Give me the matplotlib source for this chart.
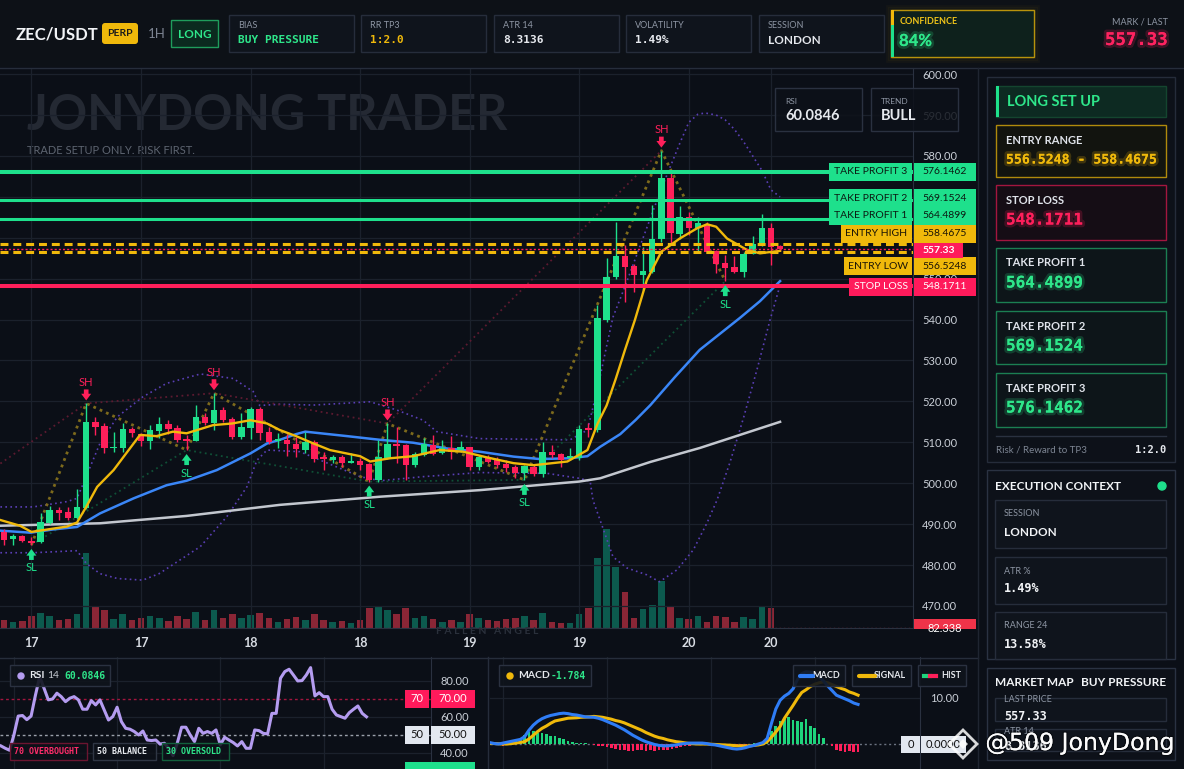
import matplotlib
matplotlib.use("Agg")
import matplotlib.pyplot as plt
import matplotlib.patheffects as pe
import numpy as np
from matplotlib.colors import to_rgba
from matplotlib.patches import Rectangle, FancyBboxPatch, Circle, Polygon

# ---------------- data ----------------
# 1h candles, ZEC/USDT
opens = [488.1, 486.3, 487.1, 485.9, 485.7, 490.3, 493.4, 492.9, 491.4, 494.0,
         514.9, 514.0, 508.5, 508.7, 513.2, 512.0, 510.4, 512.8, 514.4, 513.5,
         510.6, 510.4, 516.1, 514.8, 517.9, 515.6, 511.3, 513.6, 518.1, 512.6,
         510.4, 510.5, 509.7, 508.0, 510.0, 506.2, 505.7, 506.3, 505.0, 505.5,
         504.7, 500.8, 506.1, 509.7, 509.3, 504.4, 506.9, 509.3, 507.3, 508.5,
         508.1, 508.8, 503.9, 506.3, 505.7, 504.7, 504.0, 502.6, 504.0, 502.2,
         507.7, 507.1, 506.1, 506.1, 513.3, 513.0, 539.9, 550.3, 555.5, 553.1,
         550.9, 551.7, 559.6, 574.7, 560.9, 565.0, 562.5, 563.1, 556.7, 553.9,
         552.9, 551.7, 556.0, 558.2, 562.3, 558.0]
highs = [488.9, 487.7, 487.3, 486.9, 492.6, 494.4, 494.2, 494.2, 498.5, 519.5,
         516.1, 514.6, 512.6, 514.6, 513.8, 512.3, 514.2, 516.1, 515.4, 514.2,
         511.8, 519.1, 517.1, 522.0, 518.7, 516.1, 517.2, 518.7, 518.7, 513.8,
         512.2, 512.0, 511.4, 512.6, 510.6, 507.7, 506.9, 506.9, 507.3, 506.1,
         504.9, 510.6, 514.6, 513.8, 509.5, 507.7, 511.0, 511.8, 510.6, 511.5,
         510.3, 508.9, 506.9, 506.9, 506.5, 505.7, 504.4, 504.4, 504.4, 510.1,
         509.3, 507.3, 508.5, 514.2, 514.6, 543.5, 555.0, 563.9, 558.2, 553.7,
         557.8, 568.0, 581.3, 576.5, 567.7, 566.4, 565.1, 563.9, 557.0, 555.8,
         555.5, 556.6, 560.4, 565.8, 563.5, 558.2]
lows = [484.9, 484.9, 485.7, 484.9, 485.5, 490.1, 491.1, 491.1, 491.2, 493.8,
        511.8, 507.4, 507.7, 507.7, 511.4, 509.1, 508.3, 511.0, 512.0, 510.1,
        508.1, 510.2, 514.2, 513.1, 515.0, 510.8, 510.9, 510.9, 510.5, 509.7,
        508.5, 506.7, 506.5, 507.3, 505.3, 503.2, 504.9, 504.0, 504.9, 503.2,
        500.4, 500.4, 505.8, 504.9, 500.8, 504.0, 506.7, 506.9, 507.1, 505.9,
        507.7, 503.2, 503.2, 504.9, 503.6, 502.8, 501.2, 500.8, 501.7, 501.6,
        506.1, 504.0, 505.7, 505.7, 511.4, 512.5, 539.5, 550.0, 544.3, 546.8,
        547.2, 551.5, 559.0, 558.6, 559.6, 560.6, 556.8, 556.2, 551.3, 549.4,
        551.5, 550.3, 556.0, 558.0, 553.3, 557.1]
closes = [486.1, 487.1, 485.9, 485.4, 490.4, 493.4, 492.8, 491.6, 494.2, 514.9,
          513.8, 508.7, 508.8, 513.2, 512.2, 510.4, 513.0, 514.5, 513.2, 510.5,
          510.4, 516.1, 514.6, 517.9, 515.4, 511.3, 513.8, 518.1, 512.3, 510.1,
          510.8, 509.7, 508.3, 510.0, 505.9, 506.0, 506.5, 505.0, 505.5, 504.4,
          500.9, 506.3, 509.7, 509.2, 504.4, 507.1, 509.6, 507.1, 508.7, 507.7,
          508.9, 503.9, 506.3, 505.3, 504.4, 503.6, 502.6, 504.2, 502.2, 507.7,
          506.9, 505.7, 506.6, 513.2, 513.1, 540.4, 550.5, 555.5, 552.9, 550.9,
          551.8, 559.8, 574.7, 561.1, 565.0, 562.5, 563.5, 556.6, 553.7, 552.7,
          551.7, 556.0, 558.4, 562.3, 557.8, 557.33]
volumes = [8, 6, 7, 12, 15, 12, 8, 9, 14, 76,
           22, 18, 9, 14, 8, 10, 12, 10, 7, 12,
           9, 16, 8, 18, 10, 14, 10, 13, 15, 10,
           6, 9, 11, 8, 14, 8, 6, 7, 5, 8,
           20, 22, 18, 14, 20, 10, 12, 9, 6, 8,
           6, 14, 10, 8, 7, 9, 10, 12, 8, 15,
           6, 5, 5, 14, 20, 71, 100, 62, 36, 10,
           19, 23, 48, 21, 10, 9, 12, 6, 12, 11,
           6, 11, 9, 21, 20, 0.5]

# moving averages and bands, sampled at (bar, price)
ema_fast_x = [-0.4, 1.75, 3, 6.9, 8, 9, 10.2, 12, 14.9, 16.7, 18.5, 20, 22.9, 25, 27, 28.8,
              30.2, 32, 33.9, 35.7, 39, 40.1, 42.3, 44.8, 47.7, 50.3, 52.9, 55.8, 58, 61.7,
              63.9, 65, 66, 67, 68, 69.1, 70.4, 72, 74, 75.9, 77, 78, 79.2, 81.4, 82.8, 85]
ema_fast_y = [491.0, 489.6, 488.1, 489.4, 490.4, 494.2, 499.1, 503.2, 511.8, 511.5, 512.6, 512.2,
              514.2, 514.6, 515.4, 514.6, 513.0, 511.5, 509.7, 508.1, 506.6, 505.3, 506.1, 506.6,
              508.1, 507.7, 506.3, 504.9, 504.4, 505.3, 508.1, 514.5, 519.0, 525.5, 532.5, 539.9,
              549.6, 556.6, 559.8, 562.3, 563.3, 562.7, 559.8, 557.0, 556.2, 556.8]
ema_mid_x = [-0.4, 2.9, 5.4, 8, 10.5, 14.2, 17.8, 20, 23.3, 27, 28.8, 30.2, 32, 33, 37.6, 41.2,
             44.8, 48.5, 52.1, 55.8, 58.7, 62, 63.9, 65.3, 67.5, 69.2, 70.8, 73.5, 76.2, 78.4,
             80.6, 82.8, 85]
ema_mid_y = [488.4, 487.9, 488.7, 489.3, 492.6, 496.3, 499.5, 500.6, 503.2, 507.3, 509.7, 510.6,
             512.0, 512.6, 511.5, 510.6, 509.9, 508.5, 507.7, 506.5, 505.9, 506.1, 506.6, 508.9,
             512.0, 515.5, 519.1, 526.0, 532.6, 536.5, 540.4, 544.5, 549.4]
ema_slow_x = [-0.4, 10.5, 20, 30.2, 41.2, 52.1, 63, 65.3, 70.8, 76.2, 85]
ema_slow_y = [489.6, 490.2, 492.0, 494.7, 496.7, 498.3, 500.4, 501.2, 505.2, 508.6, 515.0]
bb_up_x = [-0.4, 3.2, 6.9, 8, 9, 10.5, 12.4, 15.2, 17.8, 21.5, 25.1, 27.3, 28, 30.2, 33.9,
           40.1, 43, 45.9, 47.4, 52.1, 62, 63.9, 65, 66, 66.7, 68, 69, 70, 71, 72, 73, 74, 75,
           76, 76.8, 78, 79, 80, 81, 82, 83, 84, 85]
bb_up_y = [494.2, 494.2, 495.5, 496.3, 501.6, 509.7, 516.2, 521.1, 524.4, 526.7, 525.6, 522.4,
           519.0, 519.3, 519.1, 519.9, 517.9, 515.4, 512.6, 510.9, 510.6, 513.0, 523.0, 533.5,
           540.6, 548.0, 554.0, 560.0, 566.0, 572.0, 577.5, 583.0, 588.2, 590.2, 590.5, 590.0,
           588.8, 586.5, 583.5, 580.0, 576.5, 571.7, 570.0]
bb_lo_x = [-0.4, 3.2, 8, 9, 10.5, 12.4, 15.2, 17, 21.5, 24.4, 26.6, 27.7, 28.8, 32.4, 39, 41.2,
           45.9, 52.1, 59.5, 63, 64.2, 64.5, 65.6, 66.7, 68.2, 70.4, 71.8, 73.7, 75.5, 77, 78.1,
           79.5, 81, 82.5, 83.9, 85]
bb_lo_y = [483.0, 483.0, 483.5, 480.4, 477.9, 476.7, 476.3, 477.9, 484.5, 491.8, 499.1, 505.6,
           508.1, 507.7, 501.6, 500.6, 501.6, 502.6, 502.4, 501.2, 500.5, 495.9, 489.0, 482.0,
           479.3, 477.6, 475.9, 478.8, 483.7, 490.3, 495.9, 505.0, 516.0, 528.0, 539.9, 548.4]

# swing points
swing_high_bars = [9, 23, 42, 72]
swing_low_bars = [3, 20, 40, 57, 79]
zigzag_bars = [3, 9, 20, 23, 40, 42, 57, 72, 79]
res_line_x = [-0.4, 9, 23, 42, 72]
res_line_y = [504.8, 519.5, 522.0, 514.6, 581.3]

# trade plan levels
level_names = ["TAKE PROFIT 3", "TAKE PROFIT 2", "TAKE PROFIT 1", "ENTRY HIGH", "ENTRY LOW", "STOP LOSS"]
level_prices = [576.1462, 569.1524, 564.4899, 558.4675, 556.5248, 548.1711]
last_price = 557.33

day_tick_bars = [3, 15, 27, 39, 51, 63, 75, 84]
day_tick_labels = ["17", "17", "18", "18", "19", "19", "20", "20"]

# oscillators (one value per bar)
rsi = [43.9, 42.6, 41.5, 50.0, 60.5, 60.8, 58.5, 60.5, 72.0, 82.4,
       76.0, 69.5, 70.0, 73.2, 71.3, 68.5, 70.4, 71.3, 69.5, 64.3,
       64.3, 69.1, 66.7, 69.5, 63.9, 58.3, 60.2, 65.4, 57.4, 53.7,
       53.2, 51.9, 50.0, 52.2, 47.2, 46.9, 47.2, 44.9, 45.4, 42.6,
       38.5, 45.5, 54.3, 54.3, 50.0, 46.3, 53.7, 50.9, 51.9, 50.9,
       52.8, 44.5, 48.7, 47.2, 45.8, 43.9, 46.3, 42.6, 42.6, 52.8,
       52.4, 50.9, 50.6, 62.0, 62.0, 81.5, 85.2, 86.5, 83.3, 80.0,
       80.2, 83.3, 87.4, 71.7, 73.5, 71.3, 71.3, 64.3, 61.1, 60.2,
       59.3, 62.4, 64.3, 66.1, 62.0, 60.08]
macd = [0.3, 0.1, 0.0, 0.2, 0.4, 0.6, 0.8, 1.0, 1.6, 3.0,
        4.1, 4.9, 5.5, 5.9, 6.2, 6.4, 6.6, 6.7, 6.6, 6.4,
        6.3, 6.1, 5.9, 5.85, 5.8, 5.6, 5.3, 4.9, 4.5, 4.1,
        3.6, 3.1, 2.5, 1.9, 1.4, 0.9, 0.5, 0.2, -0.1, -0.3,
        -0.4, -0.4, -0.3, -0.2, 0.0, 0.1, 0.2, 0.2, 0.2, 0.2,
        0.1, -0.1, -0.2, -0.4, -0.6, -0.8, -1.0, -1.1, -1.0, -0.8,
        -0.5, -0.3, 0.0, 0.3, 1.2, 4.5, 7.6, 9.5, 10.4, 11.0,
        12.0, 14.0, 15.3, 15.7, 15.6, 15.4, 14.6, 13.7, 12.6, 11.6,
        10.6, 10.2, 9.8, 9.4, 8.9, 8.6]
signal = [0.1, 0.1, 0.05, 0.0, 0.0, 0.1, 0.2, 0.35, 0.5, 1.1,
          1.9, 2.7, 3.4, 3.9, 4.5, 5.0, 5.2, 5.4, 5.6, 5.65,
          5.7, 5.8, 5.85, 5.9, 6.0, 5.9, 5.8, 5.6, 5.4, 5.1,
          4.9, 4.6, 4.2, 3.8, 3.4, 3.0, 2.5, 2.1, 1.7, 1.4,
          1.2, 0.9, 0.7, 0.5, 0.4, 0.25, 0.1, 0.05, 0.0, 0.0,
          0.0, -0.05, -0.1, -0.15, -0.2, -0.25, -0.3, -0.4, -0.4, -0.4,
          -0.4, -0.3, -0.2, 0.0, 0.5, 1.5, 2.6, 3.8, 5.6, 7.0,
          8.4, 9.9, 11.2, 11.8, 12.5, 13.0, 13.3, 13.5, 13.3, 12.9,
          12.5, 12.1, 11.8, 11.3, 11.0, 10.6]
hist = [-0.22, -0.51, -0.14, 0.58, 0.58, 0.80, 2.03, 2.54, 2.75, 2.39,
        2.39, 2.17, 1.81, 1.67, 1.30, 1.09, 0.58, 0.36, 0.22, 0.22,
        0.22, 0.07, -0.22, -0.36, -0.51, -0.72, -0.94, -1.09, -1.23, -1.38,
        -1.45, -1.45, -1.40, -1.38, -1.45, -1.38, -1.45, -1.38, -1.30, -1.23,
        -1.09, -0.87, -0.65, -0.51, -0.36, -0.29, -0.22, -0.14, -0.14, -0.14,
        -0.14, -0.22, -0.29, -0.36, -0.51, -0.51, -0.51, -0.36, -0.07, 0.22,
        0.22, 0.36, 0.58, 2.75, 3.84, 4.93, 5.51, 5.80, 5.29, 4.93,
        4.86, 5.51, 3.99, 3.41, 2.25, 1.30, -0.07, -0.51, -1.23, -1.59,
        -1.74, -1.59, -1.81, -1.81]

# ---------------- styling ----------------
W, H = 1184, 769
BG = "#0b0f17"
CARD = "#0f141c"
BORDER = "#262d3b"
GRID = "#1b212c"
UP = "#1ee08c"
DN = "#ff1f5a"
GREEN_T = "#2ee68a"
YELLOW = "#f0b90b"
BLUE = "#3a86f7"
LABEL = "#8e96a4"
WHITE = "#e6e9ee"
SANS = "Lato"
MONO = "DejaVu Sans Mono"

plt.rcParams['font.family'] = ['Lato', 'DejaVu Sans']
fig = plt.figure(figsize=(W / 100, H / 100), dpi=100, facecolor=BG)


def rect_px(x0, y0, x1, y1):
    return [x0 / W, 1 - y1 / H, (x1 - x0) / W, (y1 - y0) / H]


def clean(a):
    a.set_xticks([])
    a.set_yticks([])
    for s in a.spines.values():
        s.set_visible(False)


bars = np.arange(len(closes))
up = np.array(closes) >= np.array(opens)
ccol = np.where(up, UP, DN)

# ---------------- main price chart ----------------
XL = (-0.44, 99.56)
axv = fig.add_axes(rect_px(0, 68, 913, 628))
axv.set_facecolor(BG)
axv.bar(bars, volumes, width=0.72, color=np.where(up, "#0c5a4e", "#8a2636"))
axv.axhline(volumes[-1], color="#8a2636", ls=(0, (1, 2)), lw=1)
axv.set_xlim(*XL)
axv.set_ylim(0, 566)
clean(axv)

ax = fig.add_axes(rect_px(0, 68, 913, 628))
ax.set_facecolor('none')
ax.set_xlim(*XL)
ax.set_ylim(464.6, 601.5)
ax.set_axisbelow(True)
ax.grid(True, color=GRID, lw=0.9)
for k, s in ax.spines.items():
    s.set_visible(k in ("right", "bottom"))
    s.set_color("#2a3140")
ax.yaxis.tick_right()
ax.set_yticks(np.arange(470, 601, 10))
ax.set_yticklabels([f"{v:.2f}" for v in np.arange(470, 601, 10)])
ax.set_xticks(day_tick_bars)
ax.set_xticklabels(day_tick_labels)
ax.tick_params(axis='y', length=0, pad=6.5, labelsize=8, labelcolor="#c9ced6")
ax.tick_params(axis='x', length=0, pad=6.5, labelsize=9, labelcolor="#d8dce3")
for t in ax.get_xticklabels():
    t.set_fontweight('bold')

ax.text(27 / 913, (628 - 115) / 560, "JONYDONG TRADER", transform=ax.transAxes,
        fontsize=35, fontweight='bold', color="#242933", va='center', zorder=0.1)
ax.text(27 / 913, (628 - 150) / 560, "TRADE SETUP ONLY. RISK FIRST.", transform=ax.transAxes,
        fontsize=8, color="#5d6470", va='center', zorder=0.1)

# bollinger bands, swing structure, averages
ax.plot(bb_up_x, bb_up_y, color="#5a3fb5", lw=1.2, ls=(0, (1, 2)), zorder=2)
ax.plot(bb_lo_x, bb_lo_y, color="#5a3fb5", lw=1.2, ls=(0, (1, 2)), zorder=2)
ax.plot(res_line_x, res_line_y, color="#5c1a30", lw=1.3, ls=(0, (1, 2)), zorder=2)
ax.plot(swing_low_bars, [lows[i] for i in swing_low_bars], color="#0f5036", lw=1.3,
        ls=(0, (1, 2)), zorder=2)
zz_y = [lows[i] if i in swing_low_bars else highs[i] for i in zigzag_bars]
ax.plot(zigzag_bars, zz_y, color="#7d6a1c", lw=2, ls=(0, (1, 1.5)), zorder=2)
ax.plot(ema_slow_x, ema_slow_y, color="#c3c7cf", lw=1.8, zorder=3)
ax.plot(ema_mid_x, ema_mid_y, color=BLUE, lw=1.8, zorder=3)

# candles
ax.vlines(bars, lows, highs, colors=ccol, lw=1, zorder=4)
body_lo = np.minimum(opens, closes)
body_h = np.maximum(np.abs(np.array(closes) - np.array(opens)), 0.3)
ax.bar(bars, body_h, bottom=body_lo, width=0.7, color=ccol, zorder=5)
ax.plot(ema_fast_x, ema_fast_y, color=YELLOW, lw=1.7, zorder=6)

# trade levels
lv_col = [UP, UP, UP, YELLOW, YELLOW, DN]
for p, c, name in zip(level_prices, lv_col, level_names):
    if name.startswith("ENTRY"):
        ax.axhline(p, color=c, lw=2.2, ls=(0, (2.6, 1.6)), zorder=7)
    elif name == "TAKE PROFIT 3" or name == "STOP LOSS":
        ax.axhline(p, color=c, lw=2.9, zorder=7)
    else:
        ax.axhline(p, color=c, lw=2.2, zorder=7)
ax.axhline(last_price, color=DN, lw=1, ls=(0, (1.5, 1.5)), zorder=7)

# swing markers
ppu = ax.transData.transform((0, 1))[1] - ax.transData.transform((0, 0))[1]
arrow = 'simple,head_length=0.6,head_width=0.9,tail_width=0.42'
for i in swing_high_bars:
    h = highs[i]
    ax.annotate('', xy=(i, h + 3 / ppu), xytext=(i, h + 14 / ppu),
                arrowprops=dict(arrowstyle=arrow, fc=DN, ec='none', shrinkA=0, shrinkB=0,
                                mutation_scale=8), zorder=8)
    ax.text(i, h + 21 / ppu, "SH", color=DN, fontsize=8, ha='center', va='center', zorder=8)
for i in swing_low_bars:
    lo = lows[i]
    ax.annotate('', xy=(i, lo - 4 / ppu), xytext=(i, lo - 15 / ppu),
                arrowprops=dict(arrowstyle=arrow, fc=UP, ec='none', shrinkA=0, shrinkB=0,
                                mutation_scale=8), zorder=8)
    ax.text(i, lo - 23 / ppu, "SL", color=UP, fontsize=8, ha='center', va='center', zorder=8)


def py(p):
    return H - ax.transData.transform((0, p))[1]


# ---------------- RSI panel ----------------
rx = np.arange(len(rsi))
rax = fig.add_axes(rect_px(0, 657, 431, 769))
rax.set_facecolor(BG)
rax.set_xlim(-0.233, 100)
rax.set_ylim(31.1, 93.3)
rax.set_axisbelow(True)
rax.grid(True, color=GRID, lw=0.9)
rax.set_xticks([3, 27, 51, 75])
rax.set_xticklabels([])
rax.yaxis.tick_right()
rax.set_yticks([40, 60, 80])
rax.set_yticklabels(["40.00", "60.00", "80.00"])
rax.tick_params(length=0, pad=6.5, labelsize=8, labelcolor="#c9ced6")
for k, s in rax.spines.items():
    s.set_visible(k == "right")
    s.set_color("#2a3140")
rax.axhline(70, color="#a3163f", lw=1, ls=(0, (2, 2)))
rax.axhline(50, color="#9aa0aa", lw=1, ls=(0, (2, 2)))
rax.plot(rx, rsi, color="#b49cf0", lw=2.2, zorder=3)

# ---------------- MACD panel ----------------
mx = np.arange(len(macd))
hx = np.arange(len(macd) - len(hist), len(macd))
max_ = fig.add_axes(rect_px(490, 657, 920, 769))
max_.set_facecolor(BG)
max_.set_xlim(0, 99.3)
max_.set_ylim(-5.43, 18.9)
max_.set_axisbelow(True)
max_.grid(True, color=GRID, lw=0.9)
max_.set_xticks([3, 27, 51, 75])
max_.set_xticklabels([])
max_.yaxis.tick_right()
max_.set_yticks([10])
max_.set_yticklabels(["10.00"])
max_.tick_params(length=0, pad=7, labelsize=8, labelcolor="#c9ced6")
for k, s in max_.spines.items():
    s.set_visible(k == "right")
    s.set_color("#2a3140")
max_.axhline(0, color="#6b7280", lw=1, ls=(0, (1.5, 2)), zorder=1)
max_.bar(hx, hist, width=0.62, color=["#1ed47c" if v >= 0 else DN for v in hist], zorder=2)
max_.plot(mx, signal, color=YELLOW, lw=2.2, zorder=3)
max_.plot(mx, macd, color="#2f7df6", lw=2.2, zorder=4)

# ---------------- overlay (dashboard chrome) ----------------
ui = fig.add_axes([0, 0, 1, 1])
ui.set_xlim(0, W)
ui.set_ylim(H, 0)
ui.axis('off')
ui.patch.set_alpha(0)


def box(x0, y0, x1, y1, fc=CARD, ec=BORDER, lw=1, z=2):
    ui.add_patch(Rectangle((x0, y0), x1 - x0, y1 - y0, facecolor=fc, edgecolor=ec,
                           linewidth=lw, zorder=z))


def txt(x, y, s, size, color, weight='normal', family=SANS, ha='left', glow=None, z=5):
    t = ui.text(x, y, s, fontsize=size, color=color, fontweight=weight, family=family,
                ha=ha, va='center', zorder=z)
    if glow:
        t.set_path_effects([pe.withStroke(linewidth=4, foreground=glow, alpha=0.2), pe.Normal()])
    return t


# top bar
box(0, 0, W, 67, fc="#0d1117", ec='none', z=0)
ui.plot([0, W], [67.5, 67.5], color=BORDER, lw=1, zorder=1)
txt(16, 34, "ZEC/USDT", 12, "#f2f4f7", 'bold')
ui.add_patch(FancyBboxPatch((102, 23), 36, 21, boxstyle='round,pad=0,rounding_size=3',
                            fc=YELLOW, ec='none', zorder=3))
txt(120, 34, "PERP", 7.5, "#1a1a1a", 'bold', ha='center')
txt(148, 34, "1H", 9.5, "#7d8593")
box(171, 20, 218, 47, fc="#0b2a1f", ec="#1f9d5c", z=3)
txt(194.5, 34, "LONG", 8.5, GREEN_T, 'bold', ha='center')

top_labels = ["BIAS", "RR TP3", "ATR 14", "VOLATILITY", "SESSION"]
top_values = ["BUY PRESSURE", "1:2.0", "8.3136", "1.49%", "LONDON"]
top_colors = [GREEN_T, YELLOW, WHITE, WHITE, WHITE]
top_left = [229, 361, 494, 626, 759]
for lab, val, col, x0 in zip(top_labels, top_values, top_colors, top_left):
    box(x0, 15, x0 + 125, 52)
    txt(x0 + 9, 26, lab, 6.5, LABEL)
    if val == "LONDON":
        txt(x0 + 9, 40, val, 8.5, col, 'bold')
    else:
        txt(x0 + 9, 40, val, 8, col, 'bold', family=MONO)

# confidence card with a soft glow
for g in range(3):
    box(891 - 2 * g, 10 - 2 * g, 1034 + 2 * g, 57 + 2 * g, fc='none',
        ec=to_rgba(YELLOW, 0.06 - 0.015 * g), lw=2, z=2)
box(891, 10, 1034, 57, fc="#0e211c", ec="#b8930c", z=3)
box(891, 10, 894, 57, fc=UP, ec='none', z=4)
box(891, 10, 894, 25, fc=YELLOW, ec='none', z=4)
txt(900, 22, "CONFIDENCE", 6.5, "#f0c419", 'bold')
txt(899, 41, "84%", 12, GREEN_T, 'bold', glow=GREEN_T)
txt(1168, 22, "MARK / LAST", 6.5, LABEL, ha='right')
txt(1168, 40, "557.33", 12.5, "#ff2360", 'bold', family=MONO, ha='right', glow="#ff2360")

# RSI / TREND mini cards on the chart
box(775, 88, 862, 131, fc=to_rgba("#0d1119", 0.85), ec="#2a3140", z=3)
txt(785, 101, "RSI", 6, LABEL)
txt(785, 116, "60.0846", 10.5, WHITE, 'bold')
box(871, 88, 958, 131, fc=to_rgba("#0d1119", 0.85), ec="#2a3140", z=3)
txt(881, 101, "TREND", 6, LABEL)
txt(881, 116, "BULL", 10.5, WHITE, 'bold')

# level tags on the price axis
tag_left = [829, 829, 829, 841, 844, 849]
tag_nudge = [0, -2, -3.8, -10.4, 14.5, 0.5]
tag_fill = [UP, UP, UP, YELLOW, YELLOW, "#ff1a5b"]
tag_text = ["#0b1a12", "#0b1a12", "#0b1a12", "#1a1406", "#1a1406", "white"]
for name, p, x0, dy, fc, tc in zip(level_names, level_prices, tag_left, tag_nudge, tag_fill, tag_text):
    yc = py(p) + dy
    box(x0, yc - 9, 912, yc + 9, fc=fc, ec='none', z=6)
    box(914, yc - 9, 976, yc + 9, fc=fc, ec='none', z=6)
    txt((x0 + 912) / 2, yc, name, 7.5, tc, ha='center', z=7)
    txt(945, yc, f"{p:.4f}", 7.5, tc, ha='center', z=7)
yc = py(last_price) + 2
box(914, yc - 7.5, 963, yc + 7.5, fc="#ff1a5b", ec='none', z=6)
txt(938.5, yc, f"{last_price:.2f}", 7.5, "white", 'bold', ha='center', z=7)

# volume tag, cut by the time axis strip
clip = Rectangle((914, 619), 62, 10, facecolor="#ef3349", edgecolor='none', zorder=6)
ui.add_patch(clip)
vt = txt(945, 629, "82.338", 8, "white", ha='center', z=7)
vt.set_clip_path(clip)
txt(487, 632, "F A L L E N   A N G E L", 7.5, "#2a303b", 'bold', ha='center')

# panel separators
ui.plot([0, 978], [657.5, 657.5], color=BORDER, lw=1)
ui.plot([488, 488], [657, H], color=BORDER, lw=1)
ui.plot([978, 978], [68, H], color="#1f2531", lw=1)

# RSI decorations
box(405, 690, 429, 708, fc="#ff1a5b", ec='none', z=6)
box(431, 690, 475, 708, fc="#ff1a5b", ec='none', z=6)
txt(417, 699, "70", 8, "white", ha='center', z=7)
txt(453, 699, "70.00", 8, "white", ha='center', z=7)
box(405, 726, 429, 744, fc="#e3e8f0", ec='none', z=6)
box(431, 726, 475, 744, fc="#e3e8f0", ec='none', z=6)
txt(417, 735, "50", 8, "#111", ha='center', z=7)
txt(453, 735, "50.00", 8, "#111", ha='center', z=7)
box(405, 762, 475, 770, fc=UP, ec='none', z=6)
box(10, 665, 110, 686, fc=to_rgba(CARD, 0.9), ec="#2a3140", z=6)
ui.add_patch(Circle((21, 676), 3, color="#b49cf0", zorder=7))
txt(29, 676, "RSI", 7.5, WHITE, 'bold', z=7)
txt(47, 676, "14", 7.5, "#c9ced6", z=7)
txt(64, 676, "60.0846", 7, GREEN_T, 'bold', family=MONO, z=7)
for x0, x1, s, ec, tc in [(10, 87, "70 OVERBOUGHT", "#6b1530", "#ff2d6a"),
                          (93, 156, "50 BALANCE", "#2f3644", WHITE),
                          (162, 229, "30 OVERSOLD", "#12603c", GREEN_T)]:
    box(x0, 743, x1, 760, fc=to_rgba("#0d1119", 0.85), ec=ec, z=6)
    txt(x0 + 4, 751.5, s, 6, tc, 'bold', family=MONO, z=7)

# MACD decorations
box(499, 665, 591, 686, fc=to_rgba(CARD, 0.9), ec="#2a3140", z=6)
ui.add_patch(Circle((510, 676), 3, color=YELLOW, zorder=7))
txt(518, 676, "MACD", 7.5, WHITE, 'bold', z=7)
txt(551, 676, "-1.784", 7, GREEN_T, 'bold', family=MONO, z=7)
for x0, x1, s in [(793, 845, "MACD"), (852, 911, "SIGNAL"), (918, 966, "HIST")]:
    box(x0, 665, x1, 686, fc=to_rgba(CARD, 0.9), ec="#2a3140", z=6)
    txt(x1 - 5, 676, s, 6.5, WHITE, 'bold', ha='right', z=7)
ui.plot([800, 813], [676, 676], color="#2f7df6", lw=3, zorder=7, solid_capstyle='round')
ui.plot([859, 875], [676, 676], color=YELLOW, lw=3, zorder=7, solid_capstyle='round')
ui.plot([924, 930], [676, 676], color="#1ed47c", lw=3, zorder=7)
ui.plot([930, 936], [676, 676], color=DN, lw=3, zorder=7)
box(901, 736, 920, 753, fc="#e3e8f0", ec='none', z=6)
box(921, 736, 966, 753, fc="#e3e8f0", ec='none', z=6)
txt(910.5, 744.5, "0", 8, "#111", ha='center', z=7)
txt(943, 744.5, "0.0000", 8, "#111", ha='center', z=7)

# ---------------- right side: long set up ----------------
box(987, 77, 1175, 462, fc="#0d1119", ec="#252c3a")
box(996, 86, 1166, 117, fc="#0d2a22", ec="#14452f", z=3)
box(996, 86, 999, 117, fc=UP, ec='none', z=4)
txt(1007, 101.5, "LONG SET UP", 10.5, GREEN_T, 'bold')
setup_cards = [("ENTRY RANGE", "556.5248 - 558.4675", YELLOW, "#b08a0c", "#12140f", 125, 177, 9.5),
               ("STOP LOSS", "548.1711", "#ff1f5b", "#a3163f", "#150d15", 185, 240, 11.5),
               ("TAKE PROFIT 1", "564.4899", GREEN_T, "#1b7f52", "#0d1519", 248, 302, 11.5),
               ("TAKE PROFIT 2", "569.1524", GREEN_T, "#1b7f52", "#0d1519", 311, 364, 11.5),
               ("TAKE PROFIT 3", "576.1462", GREEN_T, "#1b7f52", "#0d1519", 373, 427, 11.5)]
for lab, val, col, ec, fc, y0, y1, fs in setup_cards:
    box(996, y0, 1166, y1, fc=fc, ec=ec, z=3)
    txt(1006, y0 + 15, lab, 8, "#dfe3ea", 'bold')
    txt(1006, y0 + 35, val, fs, col, 'bold', family=MONO, glow=col)
ui.plot([996, 1166], [436, 436], color="#2a3140", lw=1, zorder=3)
txt(996, 450, "Risk / Reward to TP3", 7, "#7d8593")
txt(1166, 450, "1:2.0", 7.5, WHITE, 'bold', family=MONO, ha='right')

# execution context
box(987, 470, 1175, 659, fc="#0d1119", ec="#2a3242")
txt(995, 486, "EXECUTION CONTEXT", 8.5, "#f2f4f7", 'bold')
ui.add_patch(Circle((1162, 486), 4, color=UP, zorder=4))
for lab, val, y0, y1, mono in [("SESSION", "LONDON", 500, 548, False),
                               ("ATR %", "1.49%", 557, 604, True),
                               ("RANGE 24", "13.58%", 612, 659, True)]:
    box(995, y0, 1166, y1, fc=CARD, ec="#262d3b", z=3)
    txt(1004, y0 + 14, lab, 6.5, LABEL)
    txt(1004, y0 + 32, val, 8.5, "#f2f4f7", 'bold', family=MONO if mono else SANS)

# market map
box(987, 668, 1175, 760, fc="#0d1119", ec="#2a3242")
txt(995, 683, "MARKET MAP", 8.5, "#f2f4f7", 'bold')
txt(1166, 683, "BUY PRESSURE", 8.5, "#f2f4f7", 'bold', ha='right')
for lab, val, y0, y1 in [("LAST PRICE", "557.33", 698, 721), ("ATR 14", "8.3136", 729, 751)]:
    box(995, y0, 1166, y1, fc=CARD, ec="#262d3b", z=3)
    txt(1004, y0 + 2, lab, 6.5, LABEL)
    txt(1004, y0 + 18, val, 8.5, "#f2f4f7", 'bold', family=MONO)

# platform watermark
wm = ui.text(1080, 743, "@509 JonyDong", fontsize=17, color=(1, 1, 1, 0.85),
             family='DejaVu Sans', ha='center', va='center', zorder=50)
wm.set_path_effects([pe.withStroke(linewidth=2, foreground=(0, 0, 0, 0.35)), pe.Normal()])
ui.add_patch(Polygon([(963, 730), (977, 744), (963, 758), (949, 744)], closed=True,
                     fc='none', ec=(1, 1, 1, 0.85), lw=2, zorder=50))
ui.add_patch(Polygon([(963, 739), (968, 744), (963, 749), (958, 744)], closed=True,
                     fc=(1, 1, 1, 0.85), ec='none', zorder=50))

fig.savefig("out.png", dpi=100, facecolor=BG)
